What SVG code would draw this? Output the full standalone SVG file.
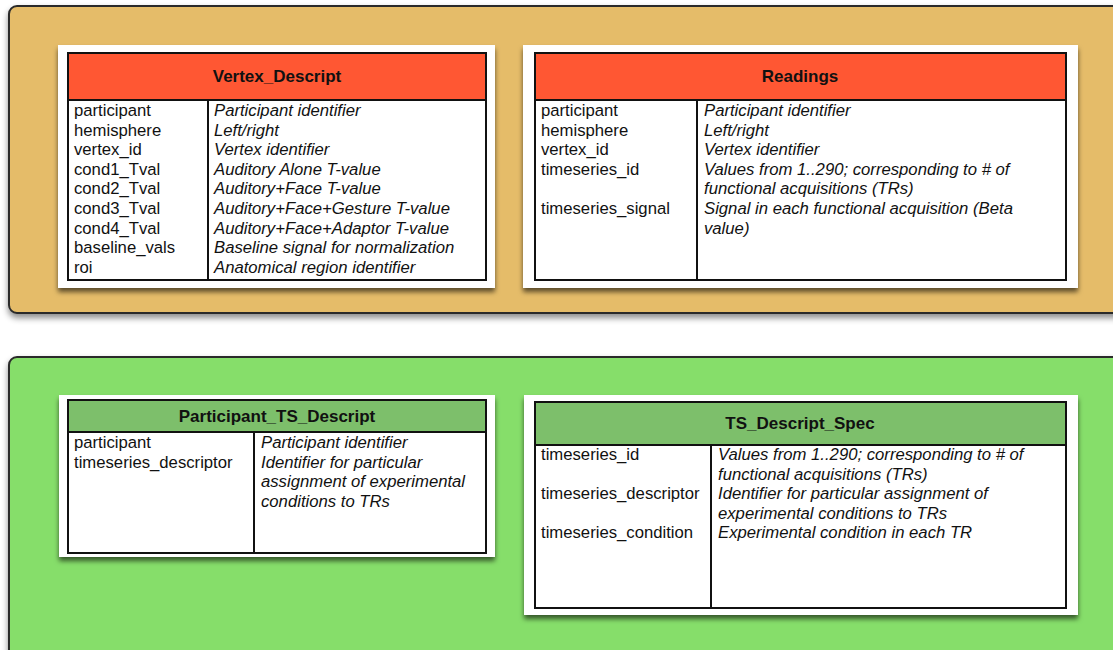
<svg xmlns="http://www.w3.org/2000/svg" width="1113" height="650" viewBox="0 0 1113 650">
<defs>
<filter id="pshadow" x="-5%" y="-5%" width="110%" height="115%">
<feDropShadow dx="0" dy="4" stdDeviation="3" flood-color="#000" flood-opacity="0.45"/>
</filter>
<filter id="cshadow" x="-5%" y="-5%" width="110%" height="115%">
<feDropShadow dx="0" dy="4" stdDeviation="2.5" flood-color="#000" flood-opacity="0.6"/>
</filter>
</defs>
<style>
.panel{stroke:#2b2b2b;stroke-width:2}
.card{fill:#fff}
.tbl{fill:#fff;stroke:#111;stroke-width:2}
.line{stroke:#111;stroke-width:2;fill:none}
.hdr-o{fill:#FF5733}
.hdr-g{fill:#7DBF6B}
text{font-family:"Liberation Sans",Arial,sans-serif;fill:#111}
.h{font-weight:bold;font-size:17px;text-anchor:middle}
.h2{font-weight:bold;font-size:17px;text-anchor:middle}
.f{font-size:16.7px}
.d{font-size:16.7px;font-style:italic}
</style>
<rect width="1113" height="650" fill="#fff"/>
<g id="panel-top">
<rect class="panel" x="9" y="6" width="1130" height="307" rx="8" fill="#E5BC69" filter="url(#pshadow)"/>
</g>
<g id="panel-bottom">
<rect class="panel" x="9" y="357" width="1130" height="320" rx="8" fill="#86DE6A" filter="url(#pshadow)"/>
</g>
<g id="Vertex_Descript">
<rect class="card" x="58" y="45" width="437" height="243" filter="url(#cshadow)"/>
<rect class="tbl" x="68" y="53" width="418" height="227"/>
<rect class="hdr-o" x="69" y="54" width="416" height="46"/>
<line class="line" x1="68" y1="100" x2="486" y2="100"/>
<line class="line" x1="208" y1="100" x2="208" y2="280"/>
<text class="h" x="277" y="82">Vertex_Descript</text>
<text class="f" x="74" y="116">participant</text>
<text class="f" x="74" y="135.6">hemisphere</text>
<text class="f" x="74" y="155.2">vertex_id</text>
<text class="f" x="74" y="174.8">cond1_Tval</text>
<text class="f" x="74" y="194.4">cond2_Tval</text>
<text class="f" x="74" y="214">cond3_Tval</text>
<text class="f" x="74" y="233.6">cond4_Tval</text>
<text class="f" x="74" y="253.2">baseline_vals</text>
<text class="f" x="74" y="272.8">roi</text>
<text class="d" x="214" y="116">Participant identifier</text>
<text class="d" x="214" y="135.6">Left/right</text>
<text class="d" x="214" y="155.2">Vertex identifier</text>
<text class="d" x="214" y="174.8">Auditory Alone T-value</text>
<text class="d" x="214" y="194.4">Auditory+Face T-value</text>
<text class="d" x="214" y="214">Auditory+Face+Gesture T-value</text>
<text class="d" x="214" y="233.6">Auditory+Face+Adaptor T-value</text>
<text class="d" x="214" y="253.2">Baseline signal for normalization</text>
<text class="d" x="214" y="272.8">Anatomical region identifier</text>
</g>
<g id="Readings">
<rect class="card" x="523" y="45" width="555" height="243" filter="url(#cshadow)"/>
<rect class="tbl" x="535" y="53" width="531" height="227"/>
<rect class="hdr-o" x="536" y="54" width="529" height="46"/>
<line class="line" x1="535" y1="100" x2="1066" y2="100"/>
<line class="line" x1="697" y1="100" x2="697" y2="280"/>
<text class="h" x="800" y="82">Readings</text>
<text class="f" x="541" y="116">participant</text>
<text class="f" x="541" y="135.6">hemisphere</text>
<text class="f" x="541" y="155.2">vertex_id</text>
<text class="f" x="541" y="174.8">timeseries_id</text>
<text class="f" x="541" y="214">timeseries_signal</text>
<text class="d" x="704" y="116">Participant identifier</text>
<text class="d" x="704" y="135.6">Left/right</text>
<text class="d" x="704" y="155.2">Vertex identifier</text>
<text class="d" x="704" y="174.8">Values from 1..290; corresponding to # of</text>
<text class="d" x="704" y="194.4">functional acquisitions (TRs)</text>
<text class="d" x="704" y="214">Signal in each functional acquisition (Beta</text>
<text class="d" x="704" y="233.6">value)</text>
</g>
<g id="Participant_TS_Descript">
<rect class="card" x="59" y="395" width="436" height="162" filter="url(#cshadow)"/>
<rect class="tbl" x="68" y="400" width="418" height="153"/>
<rect class="hdr-g" x="69" y="401" width="416" height="31"/>
<line class="line" x1="68" y1="432" x2="486" y2="432"/>
<line class="line" x1="254" y1="432" x2="254" y2="553"/>
<text class="h2" x="277" y="422">Participant_TS_Descript</text>
<text class="f" x="74" y="448">participant</text>
<text class="f" x="74" y="467.6">timeseries_descriptor</text>
<text class="d" x="261" y="448">Participant identifier</text>
<text class="d" x="261" y="467.6">Identifier for particular</text>
<text class="d" x="261" y="487.2">assignment of experimental</text>
<text class="d" x="261" y="506.8">conditions to TRs</text>
</g>
<g id="TS_Descript_Spec">
<rect class="card" x="524" y="395" width="554" height="220" filter="url(#cshadow)"/>
<rect class="tbl" x="535" y="402" width="531" height="206"/>
<rect class="hdr-g" x="536" y="403" width="529" height="42"/>
<line class="line" x1="535" y1="445" x2="1066" y2="445"/>
<line class="line" x1="711" y1="445" x2="711" y2="608"/>
<text class="h2" x="800" y="429">TS_Descript_Spec</text>
<text class="f" x="541" y="460">timeseries_id</text>
<text class="f" x="541" y="499.2">timeseries_descriptor</text>
<text class="f" x="541" y="538.4">timeseries_condition</text>
<text class="d" x="718" y="460">Values from 1..290; corresponding to # of</text>
<text class="d" x="718" y="479.6">functional acquisitions (TRs)</text>
<text class="d" x="718" y="499.2">Identifier for particular assignment of</text>
<text class="d" x="718" y="518.8">experimental conditions to TRs</text>
<text class="d" x="718" y="538.4">Experimental condition in each TR</text>
</g>
<g id="connectors"/>
</svg>
